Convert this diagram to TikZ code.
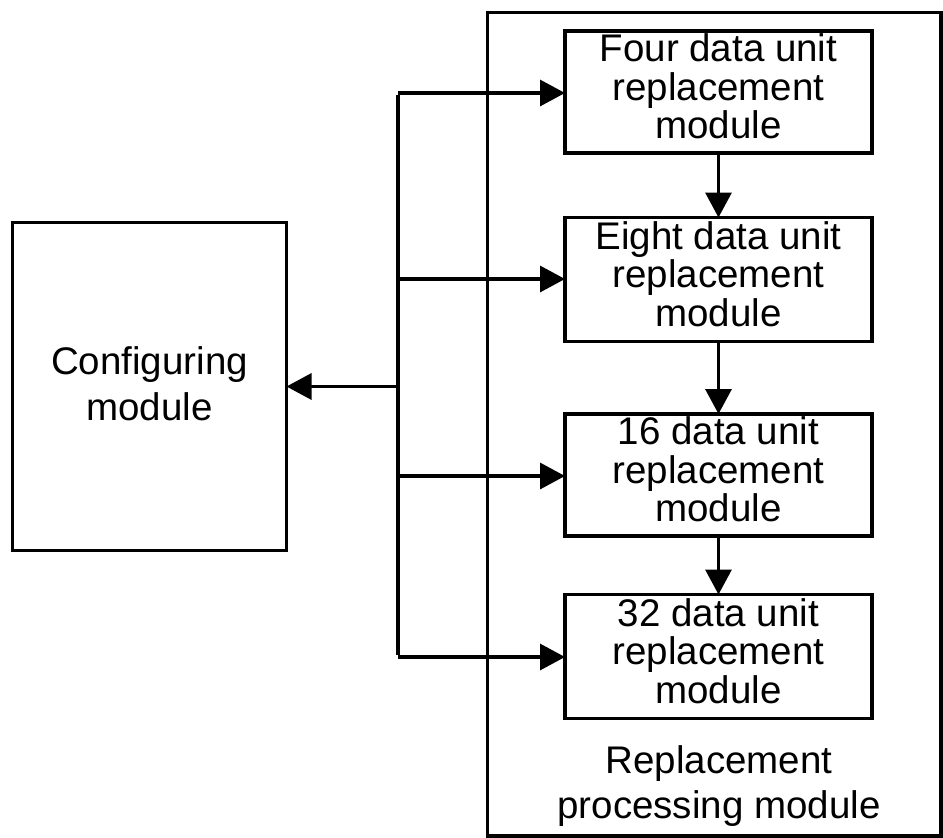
\documentclass[tikz,border=0pt]{standalone}
\usepackage{fontspec}
\setmainfont{Liberation Sans}
\usetikzlibrary{arrows.meta}
\tikzset{
  box/.style={draw, line width=3.5pt, inner sep=0pt, outer sep=0pt, align=center,
    font=\fontsize{38.5pt}{38.5pt}\selectfont},
  cfgbox/.style={draw, line width=3.5pt, inner sep=0pt, outer sep=0pt, align=center,
    font=\fontsize{38.5pt}{46pt}\selectfont},
  outerbox/.style={draw, line width=3.5pt, inner sep=0pt, outer sep=0pt},
  lbl/.style={inner sep=0pt, align=center, font=\fontsize{38.5pt}{45pt}\selectfont},
  conn/.style={line width=3.5pt},
  arr/.style={line width=3.3pt, -{Triangle[length=25pt, width=26pt]}}
}
\newcommand{\dn}[1]{\rule[-#1]{0pt}{#1}}
\begin{document}
\begin{tikzpicture}[x=1pt, y=-1pt]
\useasboundingbox (0,0) rectangle (943,838);
% outer replacement processing module
\node[outerbox, minimum width=453.5pt, minimum height=823.5pt] (outer) at (714.25,424.25) {};
% inner boxes
\node[box, minimum width=307pt, minimum height=122pt] (four) at (718.5,92) {Four data unit\\replacement\\module\dn{11pt}};
\node[box, minimum width=307pt, minimum height=124pt] (eight) at (718.5,279.5) {Eight data unit\\replacement\\module\dn{11pt}};
\node[box, minimum width=307pt, minimum height=122pt] (sixteen) at (718.5,475) {16 data unit\\replacement\\module\dn{11pt}};
\node[box, minimum width=307pt, minimum height=124pt] (thirtytwo) at (718.5,656.5) {32 data unit\\replacement\\module\dn{11pt}};
\node[lbl, anchor=north] (label) at (719,745) {Replacement\\processing module};
% configuring module
\node[cfgbox, minimum width=274pt, minimum height=328pt] (config) at (149.5,386.5) {Configuring\\module\dn{5pt}};
% bus
\coordinate (btop) at (398,93);
\coordinate (beight) at (398,279);
\coordinate (bcfg) at (398,386.5);
\coordinate (bsixteen) at (398,476);
\coordinate (bbot) at (398,657);
\draw[conn] ([yshift=-1.6pt]btop) -- ([yshift=1.6pt]bbot);
\draw[arr] (btop) -- (btop -| four.west);
\draw[arr] (beight) -- (beight -| eight.west);
\draw[arr] (bsixteen) -- (bsixteen -| sixteen.west);
\draw[arr] (bbot) -- (bbot -| thirtytwo.west);
\draw[arr] (bcfg) -- (bcfg -| config.east);
% chain
\draw[arr] (four.south) -- (eight.north);
\draw[arr] (eight.south) -- (sixteen.north);
\draw[arr] (sixteen.south) -- (thirtytwo.north);
\end{tikzpicture}
\end{document}
